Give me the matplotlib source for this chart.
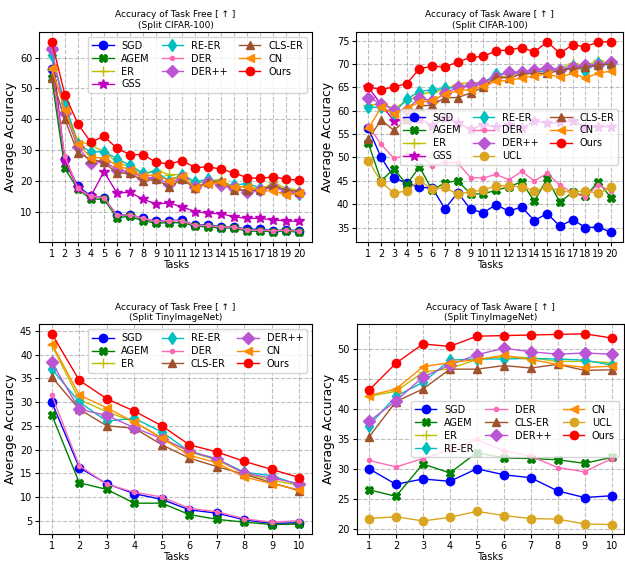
import numpy as np
import matplotlib
matplotlib.use("Agg")
import matplotlib.pyplot as plt

# Split CIFAR-100, 20 tasks
cifar_tasks = list(range(1, 21))
cifar_free = {
    "SGD":    [56.3, 27.0, 18.2, 15.1, 14.5, 8.8, 9.0, 7.8, 6.8, 7.1, 7.2, 5.5, 5.8, 5.0, 5.0, 4.3, 4.3, 3.8, 4.1, 3.8],
    "AGEM":   [53.2, 24.0, 17.3, 14.1, 14.0, 8.0, 8.5, 7.0, 6.3, 6.4, 6.4, 5.3, 5.0, 4.7, 4.7, 3.6, 3.7, 3.5, 3.7, 3.3],
    "ER":     [56.0, 44.0, 33.0, 31.5, 29.5, 26.0, 24.5, 22.0, 23.5, 22.0, 22.0, 19.0, 20.0, 20.5, 17.5, 18.5, 17.0, 19.5, 17.5, 17.0],
    "GSS":    [62.8, 26.5, 17.5, 15.0, 23.0, 16.0, 16.3, 14.0, 12.5, 12.8, 11.5, 10.0, 9.5, 9.3, 8.3, 7.8, 7.8, 7.3, 7.0, 6.8],
    "RE-ER":  [60.8, 45.2, 32.0, 29.3, 29.5, 27.2, 25.0, 22.5, 23.0, 20.0, 22.0, 19.7, 20.5, 19.2, 18.5, 19.2, 17.6, 18.0, 16.7, 15.8],
    "DER":    [56.5, 28.0, 17.5, 15.0, 14.5, 8.8, 9.0, 7.8, 6.8, 7.1, 7.0, 5.5, 5.5, 5.0, 5.0, 4.0, 4.0, 3.8, 3.9, 3.7],
    "DER++":  [62.8, 42.0, 31.0, 25.8, 26.5, 23.5, 23.0, 21.0, 21.0, 19.0, 21.0, 18.0, 19.5, 18.5, 17.5, 16.5, 17.0, 18.0, 16.5, 16.0],
    "CLS-ER": [53.5, 40.0, 29.0, 27.0, 26.0, 22.5, 22.5, 20.0, 20.5, 18.0, 20.5, 17.5, 19.5, 20.0, 17.0, 17.0, 17.0, 18.5, 17.0, 16.5],
    "CN":     [56.5, 43.0, 32.0, 27.5, 27.5, 25.0, 23.5, 21.5, 22.0, 20.0, 21.5, 17.5, 19.0, 19.5, 18.0, 18.0, 17.0, 16.7, 15.5, 16.0],
    "Ours":   [65.2, 48.0, 38.5, 32.5, 34.5, 30.5, 28.5, 28.5, 26.0, 25.5, 26.5, 24.3, 24.5, 23.8, 22.5, 21.0, 20.8, 21.3, 20.5, 20.2],
}
cifar_aware = {
    "SGD":    [56.2, 50.0, 45.7, 44.5, 43.6, 43.5, 39.0, 42.5, 38.9, 38.2, 39.9, 38.5, 39.4, 36.5, 38.0, 35.3, 36.7, 35.0, 35.1, 34.0],
    "AGEM":   [53.0, 45.0, 47.6, 44.2, 48.0, 43.0, 44.6, 45.0, 42.2, 42.2, 43.0, 43.7, 44.8, 40.6, 45.5, 40.4, 42.6, 41.7, 44.8, 41.4],
    "ER":     [61.2, 61.5, 60.5, 62.0, 63.5, 64.0, 64.5, 65.8, 66.0, 66.0, 67.0, 67.5, 68.0, 68.5, 69.0, 69.0, 70.2, 69.5, 70.8, 70.0],
    "GSS":    [65.0, 61.3, 57.8, 58.0, 58.3, 56.8, 58.5, 57.4, 56.0, 57.0, 56.5, 57.0, 56.3, 57.8, 57.3, 57.5, 57.8, 56.5, 56.6, 56.6],
    "RE-ER":  [60.8, 60.7, 59.5, 62.5, 64.1, 64.5, 64.8, 65.0, 65.5, 66.0, 67.8, 68.0, 68.0, 68.3, 68.5, 68.8, 69.5, 68.5, 70.3, 69.6],
    "DER":    [56.7, 52.8, 49.8, 50.5, 50.5, 48.2, 49.0, 48.8, 45.7, 45.6, 46.4, 45.2, 47.0, 45.0, 46.6, 44.1, 42.4, 41.6, 44.1, 42.8],
    "DER++":  [62.8, 61.5, 60.2, 60.2, 62.8, 62.0, 63.7, 65.0, 65.5, 66.0, 67.3, 68.2, 68.3, 68.7, 69.2, 68.8, 69.3, 69.7, 69.8, 70.5],
    "UCL":    [49.3, 44.8, 42.3, 42.9, 45.1, 43.2, 43.6, 42.1, 42.7, 43.0, 44.0, 43.9, 43.7, 42.9, 43.6, 42.9, 42.5, 42.9, 42.3, 43.6],
    "CLS-ER": [54.0, 58.0, 55.8, 58.2, 61.0, 61.2, 62.8, 62.8, 63.8, 65.0, 67.2, 67.0, 67.8, 68.0, 68.0, 68.6, 69.0, 69.3, 69.8, 70.0],
    "CN":     [56.2, 60.7, 59.4, 60.5, 61.8, 62.2, 63.5, 64.3, 64.5, 65.2, 66.3, 66.5, 67.0, 67.5, 67.8, 67.2, 68.0, 67.0, 68.0, 68.5],
    "Ours":   [65.1, 64.5, 65.1, 65.8, 69.0, 69.5, 69.4, 70.4, 71.4, 71.6, 72.8, 73.0, 73.5, 72.6, 74.7, 72.3, 74.1, 73.7, 74.7, 74.8],
}

# Split TinyImageNet, 10 tasks
tiny_tasks = list(range(1, 11))
tiny_free = {
    "SGD":    [30.0, 16.2, 12.8, 10.7, 9.5, 7.3, 6.6, 5.2, 4.4, 4.6],
    "AGEM":   [27.3, 13.0, 11.6, 8.7, 8.7, 6.3, 5.3, 4.7, 4.2, 4.3],
    "ER":     [42.0, 30.5, 28.0, 25.8, 22.5, 19.5, 17.8, 15.0, 13.5, 12.5],
    "RE-ER":  [37.0, 30.0, 26.0, 26.6, 23.7, 19.6, 18.0, 15.2, 14.5, 12.5],
    "DER":    [31.5, 16.6, 12.7, 11.0, 10.0, 7.6, 6.9, 5.4, 4.7, 5.0],
    "CLS-ER": [35.3, 28.5, 25.0, 24.5, 21.0, 18.2, 16.4, 14.8, 13.0, 11.3],
    "DER++":  [38.4, 28.5, 27.2, 24.6, 22.3, 19.7, 18.0, 15.0, 14.0, 12.8],
    "CN":     [42.3, 31.5, 28.8, 25.8, 22.4, 18.8, 17.2, 14.2, 12.8, 11.5],
    "Ours":   [44.4, 34.6, 30.7, 28.1, 25.0, 21.0, 19.5, 17.5, 15.8, 14.1],
}
tiny_aware = {
    "SGD":    [30.1, 27.5, 28.4, 28.0, 30.1, 29.1, 28.6, 26.4, 25.3, 25.6],
    "AGEM":   [26.6, 25.5, 30.9, 29.4, 32.8, 31.9, 31.8, 31.6, 31.0, 32.0],
    "ER":     [42.2, 43.0, 46.2, 46.8, 48.3, 48.8, 48.6, 48.0, 48.0, 47.8],
    "RE-ER":  [37.3, 42.2, 44.5, 48.2, 48.4, 48.4, 48.5, 48.4, 48.2, 47.4],
    "DER":    [31.5, 30.4, 31.8, 33.2, 35.0, 33.1, 32.2, 30.3, 29.6, 31.8],
    "CLS-ER": [35.4, 41.3, 43.4, 46.7, 46.7, 47.3, 46.9, 47.5, 46.5, 46.6],
    "DER++":  [38.0, 41.4, 45.4, 47.4, 49.1, 50.2, 49.6, 49.2, 49.4, 49.2],
    "CN":     [42.3, 43.4, 47.1, 47.8, 48.3, 49.0, 48.3, 47.5, 47.0, 47.2],
    "UCL":    [21.8, 22.1, 21.4, 22.0, 23.0, 22.3, 21.8, 21.7, 20.9, 20.8],
    "Ours":   [43.2, 47.7, 50.9, 50.5, 52.2, 52.3, 52.4, 52.5, 52.6, 51.9],
}

# marker / colour per method
styles = {
    "SGD":    ("o", "blue", 6),
    "AGEM":   ("X", "green", 6),
    "ER":     ("+", "y", 7),
    "GSS":    ("*", "m", 7),
    "RE-ER":  ("d", "c", 6),
    "DER":    (".", "hotpink", 6),
    "DER++":  ("D", "mediumorchid", 6),
    "UCL":    ("o", "goldenrod", 6),
    "CLS-ER": ("^", "sienna", 6),
    "CN":     ("<", "darkorange", 6),
    "Ours":   ("o", "red", 6),
}


def draw(ax, tasks, data, title, legend_loc):
    for name, vals in data.items():
        mk, col, ms = styles[name]
        ax.plot(tasks, vals, marker=mk, color=col, markersize=ms, linewidth=1, label=name)
    ax.set_title(title, fontsize=6.5, pad=3)
    ax.set_xlabel("Tasks", fontsize=7, labelpad=1)
    ax.set_ylabel("Average Accuracy", fontsize=8.8, labelpad=2)
    ax.set_xticks(tasks)
    ax.tick_params(labelsize=7, length=3, pad=2)
    ax.grid(True, linestyle="--", color="gray", alpha=0.5, linewidth=0.8)
    ax.legend(loc=legend_loc, ncol=3, fontsize=7, handlelength=2.2, columnspacing=1.2,
              labelspacing=0.3, borderpad=0.4)


fig = plt.figure(figsize=(6.25, 5.61), dpi=100)
ax1 = fig.add_axes([0.063, 0.569, 0.436, 0.374])
ax2 = fig.add_axes([0.570, 0.569, 0.427, 0.374])
ax3 = fig.add_axes([0.063, 0.048, 0.436, 0.374])
ax4 = fig.add_axes([0.571, 0.048, 0.427, 0.374])

draw(ax1, cifar_tasks, cifar_free, "Accuracy of Task Free [ \u2191 ]\n(Split CIFAR-100)", "upper right")
draw(ax2, cifar_tasks, cifar_aware, "Accuracy of Task Aware [ \u2191 ]\n(Split CIFAR-100)", "center right")
draw(ax3, tiny_tasks, tiny_free, "Accuracy of Task Free [ \u2191 ]\n(Split TinyImageNet)", "upper right")
draw(ax4, tiny_tasks, tiny_aware, "Accuracy of Task Aware [ \u2191 ]\n(Split TinyImageNet)", "center right")

plt.savefig("out.png", dpi=100)
